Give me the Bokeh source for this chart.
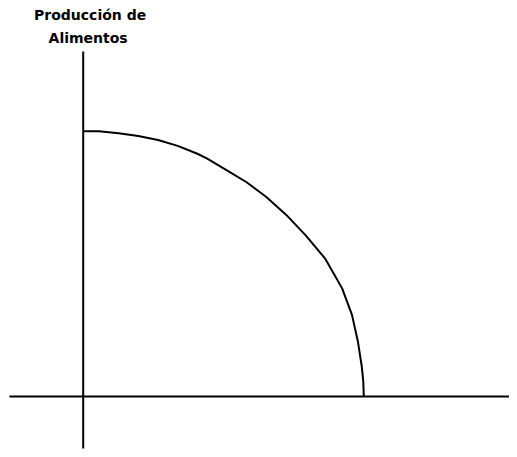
from bokeh.plotting import figure
from bokeh.models import ColumnDataSource
from bokeh.core.properties import value
from bokeh.embed import file_html
from bokeh.resources import INLINE

# Production possibility frontier (origin at the axes crossing)
curve_x = [0, 16, 36, 56, 76, 96, 116, 126, 146, 166, 186, 206, 226, 246, 263, 273, 279, 283, 284.5, 285]
curve_y = [270, 270, 268, 265, 261, 255, 247, 242, 230, 218, 203, 185, 164, 140, 110, 83, 56, 30, 15, 0]

# Axis lines (data units)
h_axis_x = [-75, 433]
h_axis_y = [0, 0]
v_axis_x = [0, 0]
v_axis_y = [351, -53]

title_lines = ["Producción de", "Alimentos"]
title_x = [7, 5]
title_y = [388, 365]

p = figure(width=509, height=449, x_range=(-84, 433), y_range=(-54, 403),
           output_backend="svg", toolbar_location=None, min_border=0,
           background_fill_color="white", border_fill_color="white", outline_line_color=None)
p.xaxis.visible = False
p.yaxis.visible = False
p.xgrid.visible = False
p.ygrid.visible = False

p.line(h_axis_x, h_axis_y, line_color="black", line_width=2)
p.line(v_axis_x, v_axis_y, line_color="black", line_width=2)
p.line(curve_x, curve_y, line_color="black", line_width=2, line_join="round")

src = ColumnDataSource(dict(x=title_x, y=title_y, t=title_lines))
p.text(x="x", y="y", text="t", source=src, text_font=value("DejaVu Sans"),
       text_font_style="bold", text_font_size="14px", text_align="center",
       text_baseline="middle", text_color="black")

open("out.html", "w").write(file_html(p, INLINE))
